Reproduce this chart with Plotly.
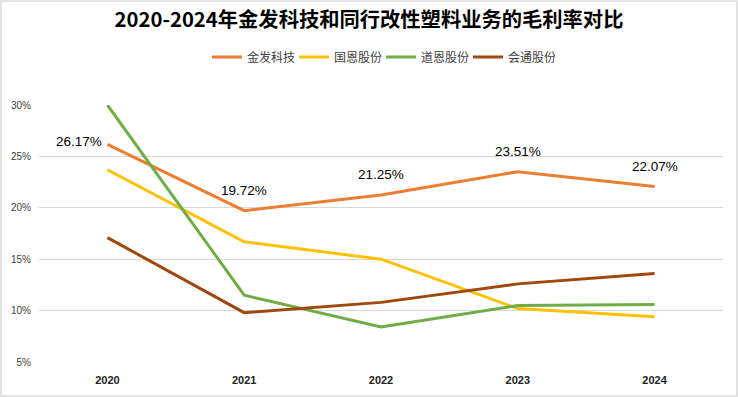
import plotly.graph_objects as go

years = ["2020", "2021", "2022", "2023", "2024"]
jinfa = [26.17, 19.72, 21.25, 23.51, 22.07]
guoen = [23.7, 16.7, 15.0, 10.2, 9.4]
daoen = [30.0, 11.5, 8.4, 10.5, 10.6]
huitong = [17.1, 9.8, 10.8, 12.6, 13.6]
names = ["金发科技", "国恩股份", "道恩股份", "会通股份"]
colors = ["#ED7D31", "#FFC000", "#70AD47", "#9E480E"]
yticks = [5, 10, 15, 20, 25, 30]
ytick_text = ["5%", "10%", "15%", "20%", "25%", "30%"]

W, H = 738, 397
ML, MR, MT, MB = 39, 15, 105, 35

fig = go.Figure()
series = [jinfa, guoen, daoen, huitong]
for n, s, c in zip(names, series, colors):
    fig.add_trace(go.Scatter(x=years, y=s, name=n, mode="lines",
                             line=dict(color=c, width=3), cliponaxis=False))

lab_font = dict(size=13.5, color="#000000", family="Liberation Sans, Arial")
for i, v in enumerate(jinfa):
    if i == 0:
        fig.add_annotation(x=i, y=v, text=f"{v:.2f}%", showarrow=False,
                           xanchor="right", yanchor="middle", xshift=-3, yshift=3,
                           font=lab_font)
    else:
        fig.add_annotation(x=i, y=v, text=f"{v:.2f}%", showarrow=False,
                           xanchor="center", yanchor="middle", yshift=20,
                           font=lab_font)

pw = W - ML - MR
ph = H - MT - MB
fig.add_shape(type="rect", xref="paper", yref="paper",
              x0=-(ML - 1) / pw, x1=1 + (MR - 1) / pw,
              y0=-(MB - 1) / ph, y1=1 + (MT - 1) / ph,
              line=dict(color="#D9D9D9", width=1.5), layer="below")

fig.update_layout(
    width=W, height=H,
    margin=dict(l=ML, r=MR, t=MT, b=MB, autoexpand=False),
    paper_bgcolor="white", plot_bgcolor="white",
    title=dict(text="<b>2020-2024年金发科技和同行改性塑料业务的毛利率对比</b>",
               x=0.5, xanchor="center", y=1 - 20 / H, yanchor="middle",
               font=dict(size=20.3, color="#000000", family="Noto Sans CJK SC")),
    legend=dict(orientation="h", x=0.5, xanchor="center", y=1 + (MT - 57) / ph, yanchor="middle",
                font=dict(size=12, color="#404040", family="Noto Sans CJK SC"),
                itemwidth=30, entrywidth=42, entrywidthmode="pixels", traceorder="normal"),
    showlegend=True,
)
fig.update_xaxes(type="category", range=[-0.5, 4.5], showgrid=False, showline=False,
                 ticks="outside", ticklen=8, tickcolor="rgba(0,0,0,0)",
                 tickvals=years, ticktext=[f"<b>{y}</b>" for y in years],
                 tickfont=dict(size=11, color="#222222", family="Liberation Sans, Arial"))
fig.update_yaxes(range=[5, 30], tickvals=yticks, ticktext=ytick_text, showgrid=True,
                 gridcolor="#D9D9D9", gridwidth=1, zeroline=False, showline=False,
                 ticks="outside", ticklen=5, tickcolor="rgba(0,0,0,0)",
                 tickfont=dict(size=10, color="#404040", family="Liberation Sans, Arial"))

fig.write_html("out.html", config={"displayModeBar": False},
               post_script="document.body.style.margin='0';")
